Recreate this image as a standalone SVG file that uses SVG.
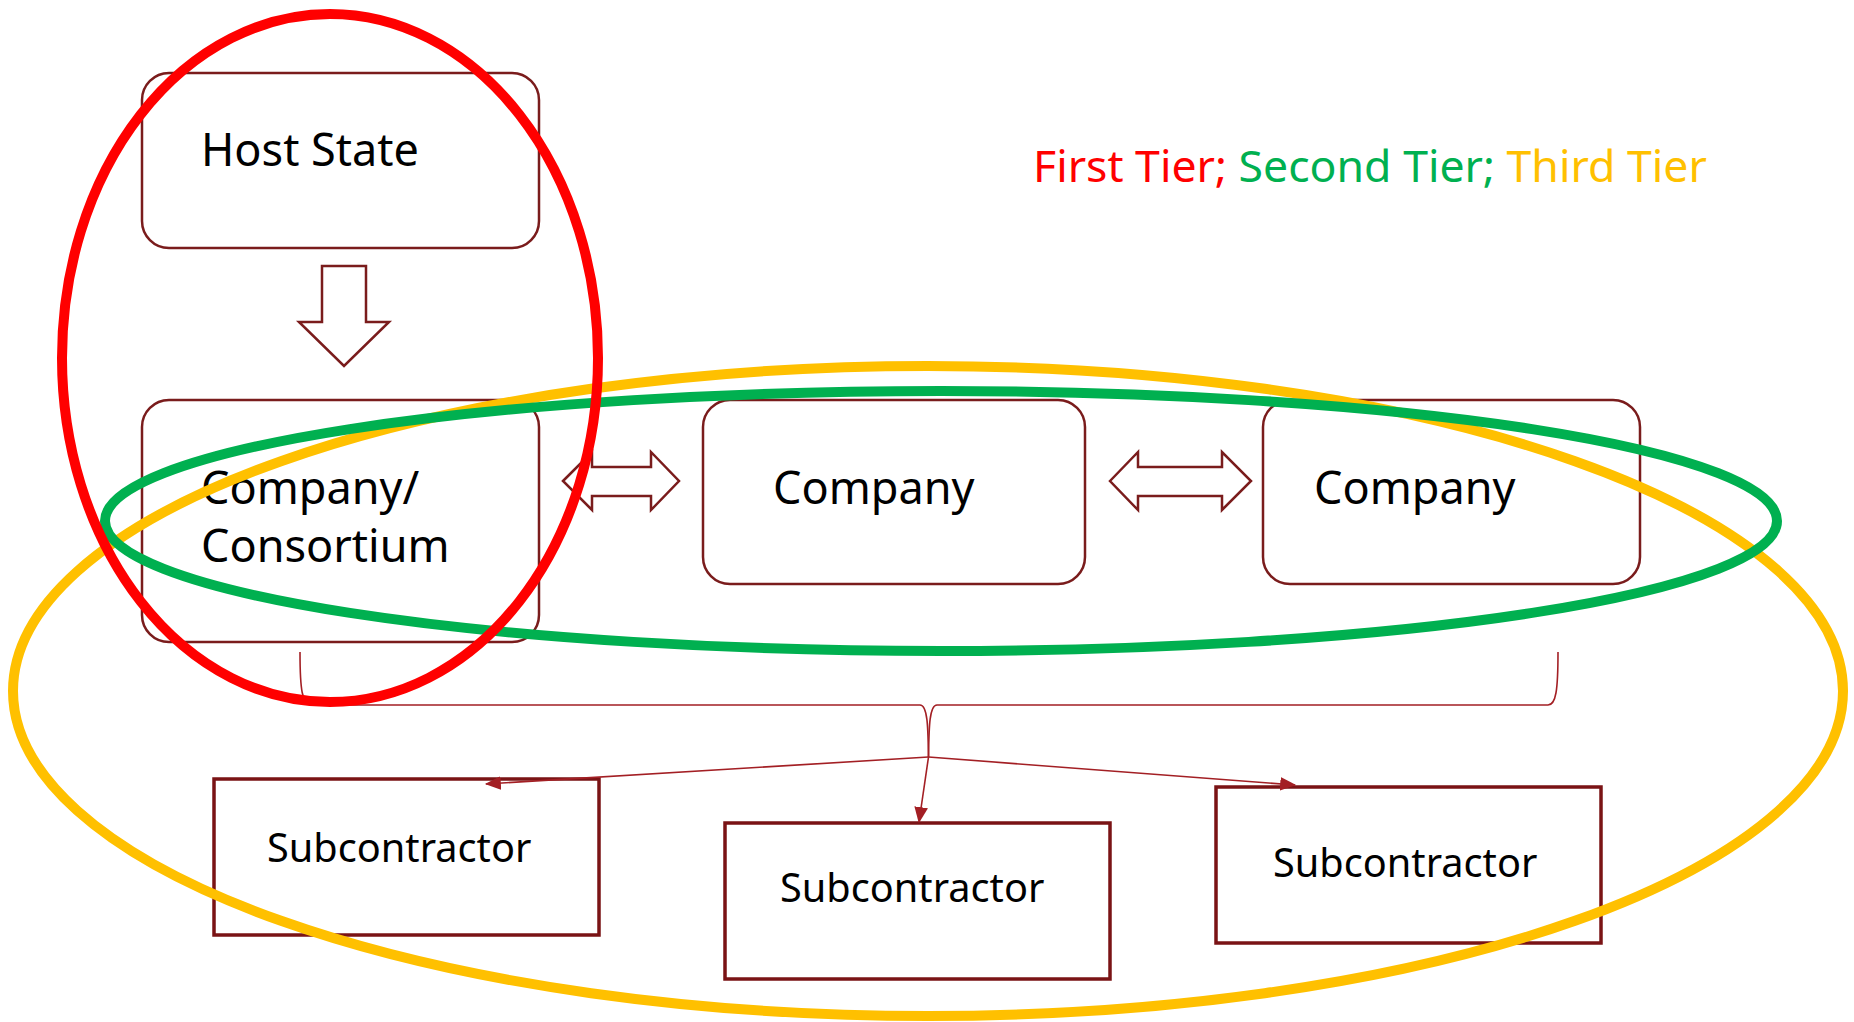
<svg xmlns="http://www.w3.org/2000/svg" width="1854" height="1022" viewBox="0 0 1854 1022">
<style>
  .rbox { fill: #ffffff; stroke: #7a1c1c; stroke-width: 2.5; }
  .sbox { fill: #ffffff; stroke: #7a1315; stroke-width: 3.5; }
  .barrow { fill: #ffffff; stroke: #7a1c1c; stroke-width: 2.5; stroke-linejoin: miter; }
  .lbl { font-family: "Noto Sans", "Open Sans", sans-serif; font-size: 45px; fill: #000000; }
  .slbl { font-family: "Noto Sans", "Open Sans", sans-serif; font-size: 39.7px; fill: #000000; }
  .conn { fill: none; stroke: #a31f24; stroke-width: 1.6; }
  .tier { fill: none; stroke-width: 10; }
  .legend { font-family: "Noto Sans", "Open Sans", sans-serif; font-size: 44.6px; }
</style>
<defs>
  <marker id="ahb" viewBox="0 0 14 12" refX="13" refY="6" markerWidth="16" markerHeight="14" markerUnits="userSpaceOnUse" orient="auto">
    <path d="M0,0 L14,6 L0,12 z" fill="#a31f24"/>
  </marker>
</defs>
<rect width="1854" height="1022" fill="#ffffff"/>

<g id="host-state">
  <rect class="rbox" x="142" y="73" width="397" height="175" rx="27" ry="27"/>
  <text class="lbl" x="201" y="166">Host State</text>
</g>

<g id="company-consortium">
  <rect class="rbox" x="142" y="400" width="397" height="242" rx="27" ry="27"/>
  <text class="lbl" x="201" y="504">Company/</text>
  <text class="lbl" x="201" y="562">Consortium</text>
</g>

<g id="company-2">
  <rect class="rbox" x="703" y="400" width="382" height="184" rx="27" ry="27"/>
  <text class="lbl" x="773" y="504">Company</text>
</g>

<g id="company-3">
  <rect class="rbox" x="1263" y="400" width="377" height="184" rx="27" ry="27"/>
  <text class="lbl" x="1314" y="504">Company</text>
</g>

<g id="subcontractor-1">
  <rect class="sbox" x="214" y="779" width="385" height="156"/>
  <text class="slbl" x="267" y="862">Subcontractor</text>
</g>

<g id="subcontractor-2">
  <rect class="sbox" x="725" y="823" width="385" height="156"/>
  <text class="slbl" x="780" y="902">Subcontractor</text>
</g>

<g id="subcontractor-3">
  <rect class="sbox" x="1216" y="787" width="385" height="156"/>
  <text class="slbl" x="1273" y="877">Subcontractor</text>
</g>

<g id="connectors">
  <path class="barrow" d="M322,266 L366,266 L366,322 L389,322 L344,366 L299,322 L322,322 Z"/>
  <path class="barrow" d="M563,481 L592,452 L592,467 L651,467 L651,452 L679,481 L651,510 L651,496 L592,496 L592,510 Z"/>
  <path class="barrow" d="M1110,481 L1138,452 L1138,467 L1222,467 L1222,452 L1251,481 L1222,510 L1222,496 L1138,496 L1138,510 Z"/>
  <path class="conn" d="M300,652 C300,690 302,705 312,705 L920,705 C928,705 928,730 928.5,757"/>
  <path class="conn" d="M1558,652 C1558,690 1556,705 1548,705 L937,705 C929,705 929,730 928.5,757"/>
  <path class="conn" d="M928.5,757 L486,784" marker-end="url(#ahb)"/>
  <path class="conn" d="M928.5,757 L919,822" marker-end="url(#ahb)"/>
  <path class="conn" d="M928.5,757 L1295,785" marker-end="url(#ahb)"/>
</g>

<g id="tiers">
  <ellipse class="tier" cx="928" cy="691" rx="915" ry="325" stroke="#ffc000"/>
  <ellipse class="tier" cx="941" cy="521" rx="836" ry="130" stroke="#00b050"/>
  <ellipse class="tier" cx="330" cy="358" rx="268" ry="344" stroke="#ff0000"/>
</g>

<g id="legend">
  <text class="legend" x="1033" y="182"><tspan fill="#ff0000">First Tier; </tspan><tspan fill="#00b050">Second Tier; </tspan><tspan fill="#ffc000">Third Tier</tspan></text>
</g>
</svg>
